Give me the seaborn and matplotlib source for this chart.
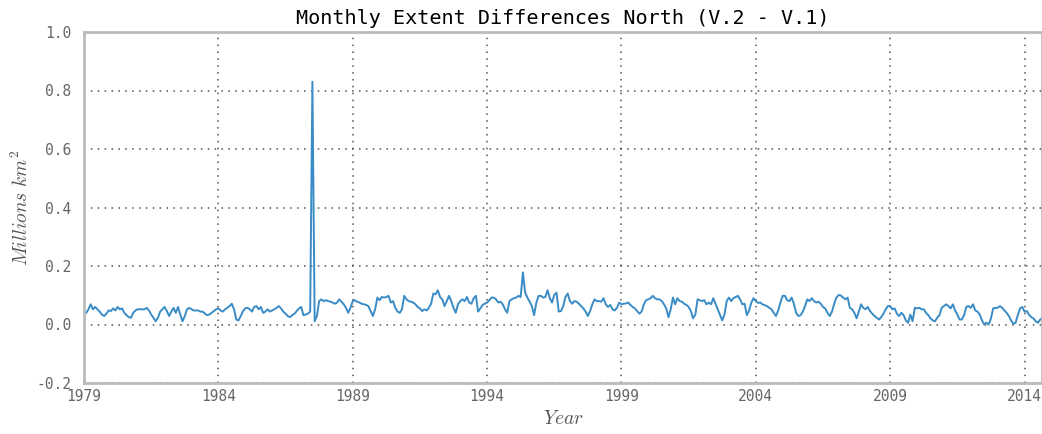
import numpy as np
import pandas as pd
import matplotlib
matplotlib.use("Agg")
import matplotlib.pyplot as plt
import seaborn as sns

# Monthly extent difference (V.2 - V.1), millions km^2, Jan 1979 onwards
y1979 = [0.040,0.040,0.052,0.069,0.052,0.060,0.052,0.044,0.034,0.029,0.037,0.048]
y1980 = [0.046,0.055,0.048,0.060,0.052,0.055,0.040,0.032,0.025,0.023,0.040,0.048]
y1981 = [0.052,0.052,0.052,0.052,0.057,0.048,0.034,0.023,0.011,0.023,0.044,0.052]
y1982 = [0.060,0.046,0.029,0.044,0.057,0.040,0.060,0.034,0.011,0.029,0.052,0.057]
y1983 = [0.052,0.048,0.048,0.048,0.044,0.044,0.037,0.032,0.034,0.040,0.046,0.052]
y1984 = [0.055,0.048,0.044,0.052,0.057,0.063,0.071,0.052,0.017,0.014,0.029,0.046]
y1985 = [0.055,0.057,0.052,0.044,0.060,0.063,0.052,0.060,0.040,0.044,0.052,0.044]
y1986 = [0.048,0.052,0.057,0.063,0.055,0.044,0.037,0.029,0.025,0.032,0.037,0.046]
y1987 = [0.055,0.060,0.032,0.034,0.037,0.044,0.830,0.011,0.029,0.080,0.086,0.080]
y1988 = [0.083,0.080,0.078,0.075,0.071,0.075,0.086,0.078,0.069,0.057,0.040,0.057]
y1989 = [0.080,0.083,0.078,0.075,0.071,0.069,0.067,0.063,0.046,0.029,0.052,0.092]
y1990 = [0.083,0.094,0.092,0.094,0.098,0.075,0.080,0.057,0.044,0.040,0.052,0.098]
y1991 = [0.086,0.080,0.078,0.075,0.069,0.060,0.055,0.046,0.052,0.048,0.057,0.071]
y1992 = [0.106,0.103,0.117,0.094,0.086,0.063,0.080,0.098,0.080,0.057,0.040,0.069]
y1993 = [0.080,0.086,0.080,0.094,0.075,0.071,0.090,0.098,0.044,0.055,0.067,0.071]
y1994 = [0.075,0.083,0.092,0.092,0.086,0.075,0.078,0.069,0.052,0.040,0.080,0.086]
y1995 = [0.090,0.092,0.098,0.094,0.178,0.109,0.092,0.078,0.063,0.032,0.075,0.098]
y1996 = [0.098,0.092,0.094,0.117,0.090,0.075,0.101,0.109,0.044,0.046,0.063,0.094]
y1997 = [0.106,0.080,0.071,0.080,0.078,0.071,0.063,0.055,0.044,0.029,0.046,0.069]
y1998 = [0.086,0.080,0.080,0.078,0.090,0.069,0.060,0.067,0.052,0.048,0.057,0.075]
y1999 = [0.069,0.071,0.072,0.075,0.067,0.060,0.055,0.046,0.037,0.044,0.069,0.083]
y2000 = [0.086,0.090,0.098,0.090,0.086,0.086,0.080,0.069,0.055,0.025,0.052,0.092]
y2001 = [0.069,0.090,0.080,0.078,0.071,0.067,0.060,0.046,0.021,0.034,0.086,0.083]
y2002 = [0.080,0.083,0.069,0.075,0.069,0.090,0.071,0.052,0.034,0.014,0.034,0.080]
y2003 = [0.092,0.080,0.090,0.094,0.098,0.086,0.069,0.071,0.032,0.048,0.075,0.090]
y2004 = [0.080,0.074,0.075,0.069,0.066,0.063,0.057,0.052,0.040,0.029,0.048,0.075]
y2005 = [0.098,0.098,0.083,0.080,0.092,0.071,0.040,0.029,0.032,0.044,0.063,0.086]
y2006 = [0.080,0.090,0.080,0.075,0.078,0.071,0.060,0.055,0.040,0.029,0.044,0.071]
y2007 = [0.092,0.101,0.099,0.092,0.086,0.092,0.057,0.052,0.040,0.021,0.044,0.069]
y2008 = [0.057,0.052,0.060,0.046,0.037,0.029,0.023,0.017,0.025,0.037,0.052,0.063]
y2009 = [0.063,0.052,0.055,0.037,0.029,0.040,0.032,0.014,0.006,0.034,0.011,0.057]
y2010 = [0.055,0.057,0.052,0.052,0.040,0.032,0.021,0.014,0.011,0.023,0.032,0.057]
y2011 = [0.063,0.069,0.063,0.055,0.069,0.048,0.034,0.017,0.017,0.032,0.060,0.063]
y2012 = [0.057,0.069,0.048,0.044,0.034,0.014,0.000,0.006,0.000,0.021,0.055,0.057]
y2013 = [0.057,0.063,0.057,0.048,0.040,0.029,0.014,0.002,0.006,0.032,0.055,0.060]
y2014 = [0.044,0.046,0.034,0.025,0.021,0.011,0.006,0.017,0.023]

yearly = [y1979, y1980, y1981, y1982, y1983, y1984, y1985, y1986, y1987, y1988,
          y1989, y1990, y1991, y1992, y1993, y1994, y1995, y1996, y1997, y1998,
          y1999, y2000, y2001, y2002, y2003, y2004, y2005, y2006, y2007, y2008,
          y2009, y2010, y2011, y2012, y2013, y2014]

start_year = 1979
x_ticks = [1979, 1984, 1989, 1994, 1999, 2004, 2009, 2014]
y_ticks = [-0.2, 0.0, 0.2, 0.4, 0.6, 0.8, 1.0]
title = "Monthly Extent Differences North (V.2 - V.1)"

values = [v for yr in yearly for v in yr]
dec_year = start_year + np.arange(len(values)) / 12.0
df = pd.DataFrame({"year": dec_year, "diff": values})

sns.set_style("white")
plt.rcParams["font.family"] = ["DejaVu Sans Mono"]
plt.rcParams["mathtext.fontset"] = "cm"

fig = plt.figure(figsize=(10.42, 4.34), dpi=100)
ax = fig.add_axes([84/1042, 1 - 383/434, 1 - 84/1042, (383 - 32)/434])

sns.lineplot(data=df, x="year", y="diff", ax=ax, color="#3A8CC6", linewidth=1.4)

ax.set_xlim(1979, 2014.65)
ax.set_ylim(-0.2, 1.0)
ax.set_xticks(x_ticks)
ax.set_xticklabels([str(t) for t in x_ticks])
ax.set_yticks(y_ticks)
ax.set_yticklabels([f"{t:.1f}" for t in y_ticks])
ax.grid(True, linestyle=(0, (1, 3.5)), color="#333333", linewidth=1.1, alpha=0.85)
ax.set_axisbelow(True)

for side in ["left", "bottom", "top", "right"]:
    ax.spines[side].set_color("#BBBBBB")
    ax.spines[side].set_linewidth(2)

ax.tick_params(axis="y", labelsize=10.5, colors="#666666", length=3,
               direction="in", pad=9)
ax.tick_params(axis="x", labelsize=10.5, colors="#666666", length=3,
               direction="in", pad=4)

ax.set_title(title, fontsize=14.5, color="black", pad=6)
ax.set_xlabel(r"$Year$", fontsize=14, color="#555555", labelpad=4)
ax.set_ylabel(r"$Millions\ km^2$", fontsize=14, color="#555555", labelpad=3)

fig.savefig("out.png", dpi=100)
